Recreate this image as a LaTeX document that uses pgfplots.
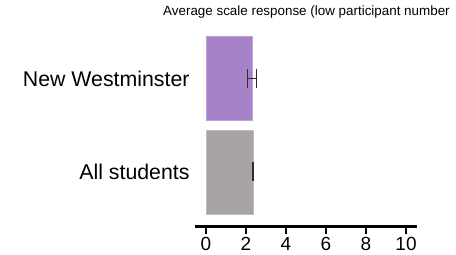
\documentclass[border=0pt]{standalone}
\usepackage{pgfplots}
\pgfplotsset{compat=1.18}
\usepackage{fontspec}
\setmainfont{Liberation Sans}
\definecolor{purp}{RGB}{166,130,200}
\definecolor{purpedge}{RGB}{190,160,220}
\definecolor{grayb}{RGB}{167,163,167}
\definecolor{grayedge}{RGB}{190,186,190}
\definecolor{errc}{RGB}{45,45,50}
\begin{document}
\begin{tikzpicture}
\path[use as bounding box] (0,0) rectangle (456bp,255bp);
\node[anchor=west, font=\fontsize{13.4bp}{15bp}\selectfont, inner sep=0pt] at (163bp,243bp) {Average scale response (low participant number};
\begin{axis}[
  at={(195bp,28.5bp)}, anchor=south west,
  scale only axis, width=222bp, height=196bp,
  xmin=-0.55, xmax=10.55, ymin=-0.586, ymax=1.52,
  axis x line*=bottom, axis y line*=left,
  x axis line style={-, line width=2bp, black},
  y axis line style={draw=none},
  xtick={0,2,4,6,8,10},
  ytick={0,1},
  yticklabels={All students, New Westminster},
  tick align=outside,
  major tick length=8bp,
  xtick style={line width=1.5bp, black},
  ytick style={draw=none},
  xticklabel style={font=\fontsize{19bp}{21bp}\selectfont, inner sep=0bp, yshift=-3bp},
  yticklabel style={font=\fontsize{21.3bp}{24bp}\selectfont, xshift=6bp},
  /pgf/number format/assume math mode=true,
  xbar, bar width=84bp, bar shift=0pt,
  clip=false,
]
\addplot[fill=grayb, draw=grayedge, line width=0.8bp,
  error bars/.cd, x dir=both, x explicit,
  error bar style={line width=1.2bp, errc},
  error mark options={line width=1.6bp, errc, mark size=9.5bp, rotate=90}]
  coordinates {(2.35,0) +- (0.03,0)};
\addplot[fill=purp, draw=purpedge, line width=0.8bp,
  error bars/.cd, x dir=both, x explicit,
  error bar style={line width=1.2bp, errc},
  error mark options={line width=1.6bp, errc, mark size=9.5bp, rotate=90}]
  coordinates {(2.3,1) +- (0.22,0)};
\end{axis}
\end{tikzpicture}
\end{document}
